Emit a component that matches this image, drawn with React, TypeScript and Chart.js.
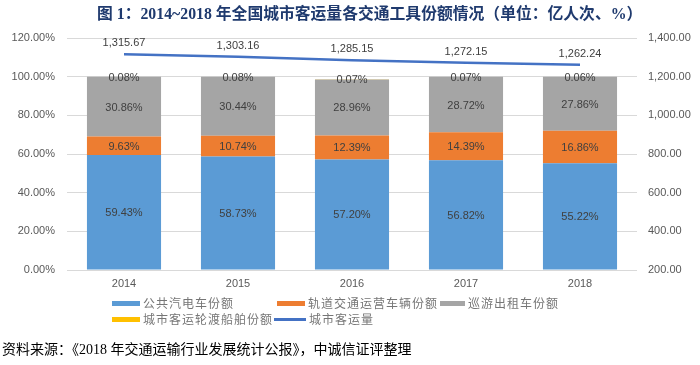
import React, { useEffect, useRef } from "react";
import { Chart, registerables } from "chart.js";

Chart.register(...registerables);

const years = ["2014", "2015", "2016", "2017", "2018"];
const busShare = [59.43, 58.73, 57.2, 56.82, 55.22];
const railShare = [9.63, 10.74, 12.39, 14.39, 16.86];
const taxiShare = [30.86, 30.44, 28.96, 28.72, 27.86];
const ferryShare = [0.08, 0.08, 0.07, 0.07, 0.06];
const passengerVolume = [1315.67, 1303.16, 1285.15, 1272.15, 1262.24];

const seriesNames = ["公共汽电车份额", "轨道交通运营车辆份额", "巡游出租车份额", "城市客运轮渡船舶份额", "城市客运量"];
const colors = ["#5B9BD5", "#ED7D31", "#A5A5A5", "#FFC000", "#4472C4"];

const titleText = "图 1：2014~2018 年全国城市客运量各交通工具份额情况（单位：亿人次、%）";
const sourceText = "资料来源：《2018 年交通运输行业发展统计公报》，中诚信证评整理";

const tickFont = { family: "'Liberation Sans', 'Noto Sans CJK SC', sans-serif", size: 11 };
const numFmt = new Intl.NumberFormat("en-US", { minimumFractionDigits: 2, maximumFractionDigits: 2 });

const labelPlugin = {
  id: "valueLabels",
  afterDatasetsDraw(chart: any) {
    const ctx = chart.ctx;
    ctx.save();
    ctx.font = "11px 'Liberation Sans', sans-serif";
    ctx.fillStyle = "#404040";
    ctx.textAlign = "center";
    ctx.textBaseline = "middle";
    chart.data.datasets.forEach((ds: any, i: number) => {
      const meta = chart.getDatasetMeta(i);
      meta.data.forEach((el: any, j: number) => {
        const v = ds.data[j];
        if (ds.type === "line") {
          const p = el.getProps(["x", "y"], true);
          ctx.fillText(numFmt.format(v), p.x, p.y - 11);
        } else {
          const p = el.getProps(["x", "y", "base"], true);
          ctx.fillText(v.toFixed(2) + "%", p.x, (p.y + p.base) / 2 + 1);
        }
      });
    });
    ctx.restore();
  },
};

export default function App() {
  const ref = useRef<HTMLCanvasElement>(null);
  useEffect(() => {
    document.body.style.margin = "0";
    const barData = [busShare, railShare, taxiShare, ferryShare];
    const chart = new Chart(ref.current!, {
      type: "bar",
      data: {
        labels: years,
        datasets: [
          ...barData.map((d, i) => ({
            type: "bar" as const,
            label: seriesNames[i],
            data: d,
            backgroundColor: colors[i],
            yAxisID: "y",
            stack: "s",
            barPercentage: 0.65,
            categoryPercentage: 1,
            order: 2,
          })),
          {
            type: "line" as const,
            label: seriesNames[4],
            data: passengerVolume,
            borderColor: colors[4],
            borderWidth: 2.5,
            pointRadius: 0,
            yAxisID: "y1",
            order: 1,
          },
        ],
      },
      options: {
        responsive: false,
        animation: false,
        layout: { padding: { top: 38, left: 0, right: 0, bottom: 0 } },
        plugins: { legend: { display: false }, title: { display: false }, tooltip: { enabled: false } },
        scales: {
          x: {
            stacked: true,
            grid: { display: false, drawTicks: false },
            border: { display: false },
            ticks: { color: "#595959", font: tickFont, padding: 7 },
            afterFit: (s: any) => { s.height = 95; },
          },
          y: {
            stacked: true,
            position: "left",
            min: 0,
            max: 120,
            ticks: { stepSize: 20, color: "#595959", font: tickFont, padding: 12, callback: (v: any) => Number(v).toFixed(2) + "%" },
            grid: { color: "#D9D9D9", drawTicks: false },
            border: { display: false },
            afterFit: (s: any) => { s.width = 67; },
          },
          y1: {
            position: "right",
            min: 200,
            max: 1400,
            ticks: { stepSize: 200, color: "#595959", font: tickFont, padding: 11, callback: (v: any) => numFmt.format(Number(v)) },
            grid: { display: false, drawTicks: false },
            border: { display: false },
            afterFit: (s: any) => { s.width = 63; },
          },
        },
      },
      plugins: [labelPlugin],
    } as any);
    return () => chart.destroy();
  }, []);

  const legendText: React.CSSProperties = {
    position: "absolute",
    font: "12px 'Noto Sans CJK SC', sans-serif",
    letterSpacing: "1px",
    color: "#767676",
    lineHeight: "14px",
    whiteSpace: "nowrap",
  };
  const legendItems = [
    { x: 112, y: 303, w: 28, text: seriesNames[0], c: colors[0], line: false },
    { x: 277, y: 303, w: 28, text: seriesNames[1], c: colors[1], line: false },
    { x: 440, y: 303, w: 25, text: seriesNames[2], c: colors[2], line: false },
    { x: 112, y: 319, w: 28, text: seriesNames[3], c: colors[3], line: false },
    { x: 274, y: 319, w: 32, text: seriesNames[4], c: colors[4], line: true },
  ];

  return (
    <div style={{ position: "relative", width: 700, height: 365, background: "#fff", overflow: "hidden" }}>
      <canvas ref={ref} width={700} height={365} style={{ position: "absolute", left: 0, top: 0 }} />
      <div
        style={{
          position: "absolute",
          left: 97,
          top: 4,
          font: "bold 15.8px 'Liberation Serif', 'Noto Sans CJK SC', serif",
          color: "#1F3A6E",
          whiteSpace: "nowrap",
          lineHeight: "20px",
        }}
      >
        {titleText}
      </div>
      {legendItems.map((it, i) => (
        <React.Fragment key={i}>
          <div
            style={{
              position: "absolute",
              left: it.x,
              top: it.y - (it.line ? 1 : 2.5),
              width: it.w,
              height: it.line ? 2.5 : 5,
              background: it.c,
            }}
          />
          <div style={{ ...legendText, left: it.x + it.w + 3, top: it.y - 7 }}>{it.text}</div>
        </React.Fragment>
      ))}
      <div
        style={{
          position: "absolute",
          left: 2,
          top: 341,
          font: "14px 'Liberation Serif', 'Noto Sans CJK SC', serif",
          color: "#000",
          whiteSpace: "nowrap",
          lineHeight: "18px",
        }}
      >
        {sourceText}
      </div>
    </div>
  );
}
